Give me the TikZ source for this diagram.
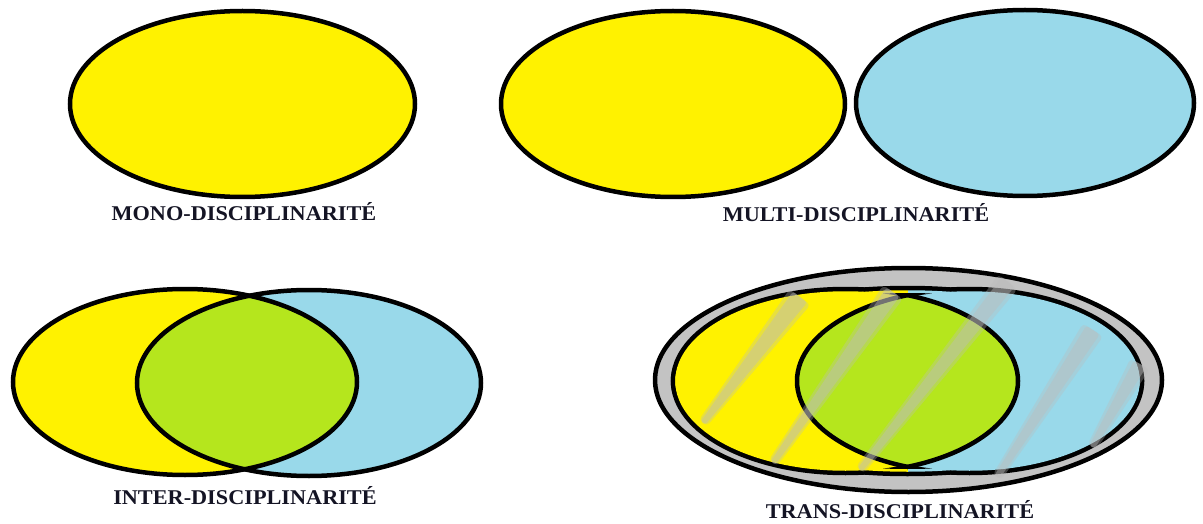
\documentclass[tikz,border=0pt]{standalone}
\usepackage{fontspec}
\usepackage{graphicx}
\setmainfont{Liberation Serif}
\usetikzlibrary{calc}
\definecolor{pyellow}{RGB}{255,242,0}
\definecolor{pblue}{RGB}{153,217,234}
\definecolor{pgreen}{RGB}{181,230,29}
\definecolor{pgray}{RGB}{195,195,195}
\definecolor{brushgray}{RGB}{188,188,188}
\definecolor{labcol}{RGB}{20,20,36}
\tikzset{
  outline/.style={draw=black, line width=4.5pt},
  wideline/.style={draw=black, line width=9pt},
  lab/.style={anchor=base, font=\bfseries\fontsize{21}{21}\selectfont, text=labcol, inner sep=0pt},
}
\newcommand{\mybrush}[4]{%
  \fill[brushgray, opacity=0.33, rounded corners=4pt]
    ($(#1)!#3+2pt!90:(#2)$) -- ($(#2)!#4+4pt!-90:(#1)$) -- ($(#2)!#4+4pt!90:(#1)$) -- ($(#1)!#3+2pt!-90:(#2)$) -- cycle;
  \fill[brushgray, opacity=0.42, rounded corners=3pt]
    ($(#1)!#3!90:(#2)$) -- ($(#2)!#4!-90:(#1)$) -- ($(#2)!#4!90:(#1)$) -- ($(#1)!#3!-90:(#2)$) -- cycle;
}
\begin{document}
\begin{tikzpicture}[x=1pt,y=-1pt]
\useasboundingbox (0,0) rectangle (1203,524);

% ---------- MONO ----------
\filldraw[fill=pyellow, outline] (242.5,104) ellipse [x radius=172.5pt, y radius=93pt];
\node[lab] (mono) at (244,221) {\scalebox{1.06}[1]{MONO-DISCIPLINARITÉ}};

% ---------- MULTI ----------
\filldraw[fill=pyellow, outline] (673,104) ellipse [x radius=172pt, y radius=93pt];
\filldraw[fill=pblue, outline] (1025,103) ellipse [x radius=169pt, y radius=93pt];
\node[lab] (multi) at (856,221.5) {\scalebox{1.06}[1]{MULTI-DISCIPLINARITÉ}};

% ---------- INTER ----------
\fill[pyellow] (185,382) ellipse [x radius=172pt, y radius=93pt];
\fill[pblue] (309,383) ellipse [x radius=172pt, y radius=93pt];
\begin{scope}
  \clip (185,382) ellipse [x radius=172pt, y radius=93pt];
  \fill[pgreen] (309,383) ellipse [x radius=172pt, y radius=93pt];
\end{scope}
\draw[outline] (185,382) ellipse [x radius=172pt, y radius=93pt];
\draw[outline] (309,383) ellipse [x radius=172pt, y radius=93pt];
\node[lab] (inter) at (245,504) {\scalebox{1.06}[1]{INTER-DISCIPLINARITÉ}};

% ---------- TRANS ----------
% outer gray ring
\filldraw[fill=pgray, outline] (908.5,380) ellipse [x radius=253.5pt, y radius=112pt];
% union border (inner ellipse + both discipline ellipses)
\draw[wideline] (907.5,381) ellipse [x radius=232.25pt, y radius=90.75pt];
\draw[wideline] (845.5,381) ellipse [x radius=170.25pt, y radius=89.75pt];
\draw[wideline] (969.5,381) ellipse [x radius=170.25pt, y radius=89.75pt];
\begin{scope}
  \clip (907.5,381) ellipse [x radius=232.25pt, y radius=90.75pt];
  \fill[pyellow] (640,270) rectangle (908,500);
  \fill[pblue] (908,270) rectangle (1170,500);
\end{scope}
\fill[pyellow] (845.5,381) ellipse [x radius=170.25pt, y radius=89.75pt];
\fill[pblue] (969.5,381) ellipse [x radius=170.25pt, y radius=89.75pt];
\begin{scope}
  \clip (845.5,381) ellipse [x radius=172.5pt, y radius=92pt];
  \fill[pgreen] (969.5,381) ellipse [x radius=172.5pt, y radius=92pt];
\end{scope}
% lens outlines, kept inside the union
\begin{scope}
  \clip (907.5,381) ellipse [x radius=229pt, y radius=88pt];
  \draw[outline] (845.5,381) ellipse [x radius=172.5pt, y radius=92pt];
  \draw[outline] (969.5,381) ellipse [x radius=172.5pt, y radius=92pt];
\end{scope}

% brush strokes
\coordinate (s1a) at (703,423); \coordinate (s1b) at (800,297);
\coordinate (s2a) at (773,463); \coordinate (s2b) at (893,292);
\coordinate (s3a) at (860,470); \coordinate (s3b) at (1008,282);
\coordinate (s4a) at (997,477); \coordinate (s4b) at (1093,330);
\coordinate (s5a) at (1092,447); \coordinate (s5b) at (1140,364);
\mybrush{s1a}{s1b}{3pt}{9pt}
\mybrush{s2a}{s2b}{3pt}{8pt}
\mybrush{s3a}{s3b}{3pt}{8pt}
\mybrush{s4a}{s4b}{3pt}{8pt}
\mybrush{s5a}{s5b}{3pt}{7pt}

\node[lab] (trans) at (900,518) {\scalebox{1.06}[1]{TRANS-DISCIPLINARITÉ}};
\end{tikzpicture}
\end{document}
